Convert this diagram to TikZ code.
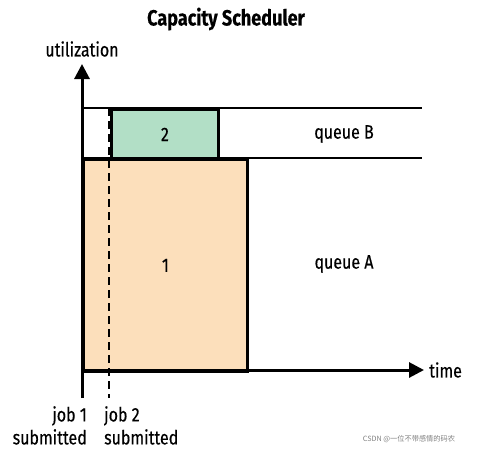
\documentclass[tikz,border=0pt]{standalone}
\usepackage{fontspec}
\setmainfont{Fira Sans}[FakeStretch=0.82, FakeBold=0.4]
\newfontfamily\cjk{Noto Sans CJK SC}
\usetikzlibrary{positioning, arrows.meta}
\definecolor{jobone}{HTML}{FCDFBB}
\definecolor{jobtwo}{HTML}{B2DFC6}

\begin{document}
\begin{tikzpicture}[
  x=1pt, y=-1pt,
  lbl/.style={inner sep=0pt, font=\fontsize{19.5}{23}\selectfont},
  axis/.style={line width=3pt, -{Triangle[width=15pt,length=15pt]}},
  lane/.style={line width=2.8pt},
  jobbox/.style={draw, line width=2.8pt}
]
  \useasboundingbox (0,0) rectangle (481,453);

  % axes
  \coordinate (o) at (82,370);
  \coordinate (ybot) at (82,398);
  \coordinate (ytop) at (82,64);
  \coordinate (xend) at (424,370);
  \coordinate (bl) at (82,108);
  \coordinate (br) at (422,108);
  \coordinate (al) at (82,158);
  \coordinate (ar) at (422,158);

  % job boxes
  \node[jobbox, fill=jobone, minimum width=164pt, minimum height=212pt, anchor=north west] (job1) at (82,158) {};
  \node[jobbox, fill=jobtwo, minimum width=107pt, minimum height=50pt, anchor=north west] (job2) at (110,108) {};
  \node[lbl] at (job1.center) {1};
  \node[lbl] at (job2.center) {2};

  \draw[lane] (bl) -- (br);
  \draw[lane] (al) -- (ar);
  \draw[line width=2.6pt, dash pattern=on 8pt off 5pt] (109,108) -- (109,398);
  \draw[line width=3pt] (ybot) -- (o);
  \draw[axis] (o) -- (ytop);
  \draw[axis] (o) -- (xend);

  % labels
  \node[lbl, font=\fontsize{22}{25}\selectfont\bfseries] (title) at (226,19) {Capacity Scheduler};
  \node[lbl] (util) at (82,49) {utilization};
  \node[lbl, right=5pt of xend] (time) {time};
  \node[lbl] (qb) at (344,134) {queue B};
  \node[lbl] (qa) at (344,264) {queue A};
  \node[lbl, align=right, anchor=north east] (j1) at (87,406) {job 1\\submitted};
  \node[lbl, align=left, anchor=north west] (j2) at (104,406) {job 2\\submitted};
  \node[inner sep=0pt, text=gray, font=\cjk\fontsize{7.2}{9}\selectfont] (wm) at (409,439) {CSDN @一位不带感情的码农};
\end{tikzpicture}
\end{document}
